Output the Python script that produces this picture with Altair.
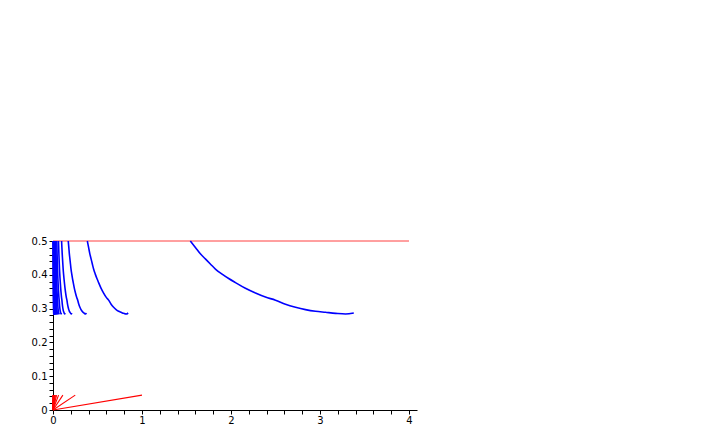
import altair as alt
import pandas as pd

# per-curve horizontal scale factors (curve/ray 1..20)
scales = [1, 0.25, 0.111, 0.0625, 0.04, 0.0278, 0.0204, 0.0156, 0.0123, 0.01,
          0.0083, 0.0069, 0.0059, 0.0051, 0.0044, 0.0039, 0.0035, 0.0031, 0.0028, 0.0025]
# largest blue curve
curve_x = [1.543, 1.600, 1.656, 1.712, 1.768, 1.825, 1.900, 1.974, 2.050, 2.162,
           2.275, 2.387, 2.500, 2.612, 2.725, 2.837, 2.950, 3.062, 3.175, 3.287, 3.380]
curve_y = [0.500, 0.481, 0.462, 0.447, 0.432, 0.417, 0.402, 0.389, 0.377, 0.360,
           0.346, 0.334, 0.325, 0.313, 0.304, 0.297, 0.292, 0.289, 0.286, 0.284, 0.287]
# red rays from the origin end at this height
red_end_y = 0.044
# horizontal red line
top_x = [0, 4]
top_y = [0.5, 0.5]

blue_rows = []
red_rows = []
for k, s in enumerate(scales):
    for i, (cx, cy) in enumerate(zip(curve_x, curve_y)):
        blue_rows.append({"x": cx * s, "y": cy, "g": k, "o": i})
    red_rows.append({"x": 0.0, "y": 0.0, "g": k, "o": 0})
    red_rows.append({"x": s, "y": red_end_y, "g": k, "o": 1})
blue_df = pd.DataFrame(blue_rows)
red_df = pd.DataFrame(red_rows)
top_df = pd.DataFrame({"x": top_x, "y": top_y, "g": [0, 0], "o": [0, 1]})

xticks = [round(i * 0.2, 2) for i in range(21)]
yticks = [round(i * 0.02, 2) for i in range(26)]

font = "DejaVu Sans"
x_axis = alt.Axis(
    values=xticks,
    labelExpr="abs(datum.value - round(datum.value)) < 1e-6 ? format(datum.value, 'd') : ''",
    grid=False, domainColor="black", tickColor="black", tickSize=4, tickWidth=1,
    domainWidth=1, labelFont=font, labelFontSize=10, labelColor="black",
    labelPadding=1, labelFlush=False, labelOverlap=False, title=None,
)
y_axis = alt.Axis(
    values=yticks,
    labelExpr="abs(datum.value*10 - round(datum.value*10)) < 1e-6 ? (datum.value == 0 ? '0' : format(datum.value, '.1f')) : ''",
    grid=False, domainColor="black", tickColor="black", tickSize=4, tickWidth=1,
    domainWidth=1, labelFont=font, labelFontSize=10, labelColor="black",
    labelPadding=2, labelFlush=False, labelOverlap=False, title=None,
)

X = alt.X("x:Q", scale=alt.Scale(domain=[0, 4.09], nice=False, zero=False), axis=x_axis)
Y = alt.Y("y:Q", scale=alt.Scale(domain=[0, 0.5], nice=False, zero=False), axis=y_axis)

blue = alt.Chart(blue_df).mark_line(color="#0000ff", strokeWidth=1.6, interpolate="monotone").encode(
    x=X, y=Y, detail="g:N", order="o:Q")
red = alt.Chart(red_df).mark_line(color="#ff0000", strokeWidth=1.1).encode(
    x=X, y=Y, detail="g:N", order="o:Q")
top = alt.Chart(top_df).mark_line(color="#ff4040", strokeWidth=1).encode(
    x=X, y=Y, order="o:Q")

chart = alt.layer(red, top, blue).properties(
    width=364, height=169,
    autosize=alt.AutoSizeParams(type="none"),
    padding={"left": 45, "top": 233, "right": 20, "bottom": 20},
    view=alt.ViewBackground(strokeWidth=0, strokeOpacity=0),
).configure_view(strokeWidth=0, strokeOpacity=0).configure(background="white")

chart.save("out.html", embed_options={"renderer": "svg", "actions": False})
